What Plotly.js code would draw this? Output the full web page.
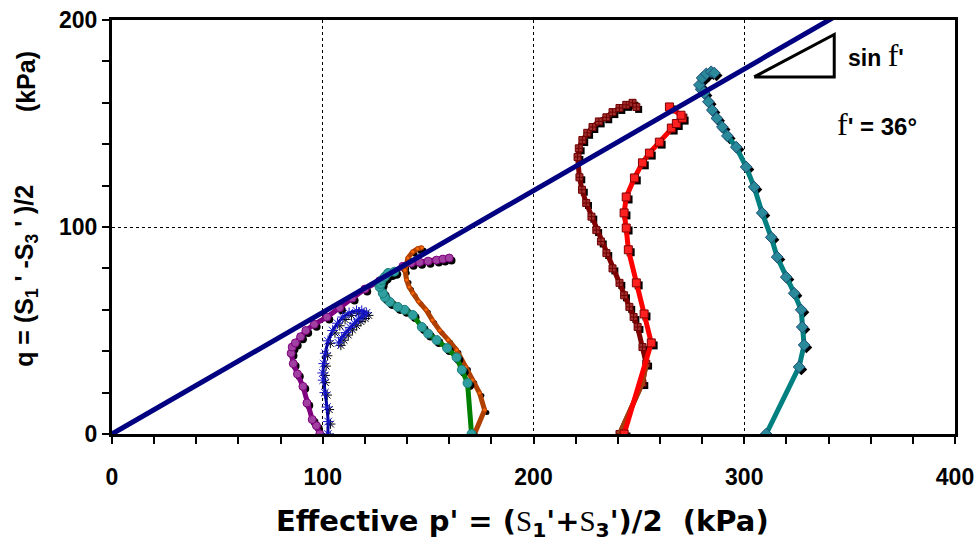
<!DOCTYPE html>
<html><head><meta charset="utf-8">
<script src="https://cdn.plot.ly/plotly-3.0.1.min.js"></script>
<style>html,body{margin:0;padding:0;background:#fff;}#chart{width:978px;height:544px;}</style>
</head><body><div id="chart"></div>
<script>
// Failure envelope (phi' = 36 deg)
var pLine = [0, 345];
var qLine = [0, 202.8];

// Stress paths (p', q) in kPa
var pA = [98.6, 97, 95, 92.5, 90.6, 88, 86, 85, 85.5, 87, 89.5, 92, 96, 102, 108, 114, 120, 127, 132, 138, 142, 146, 150, 154, 157, 160];
var qA = [0, 4, 7, 15, 23, 29, 34, 39, 42, 44, 47, 50, 53, 56.5, 61, 65.7, 70, 74, 77.5, 81, 82.5, 83, 83.5, 84, 84.5, 85];

var pB = [102.4, 102.6, 102, 101, 100.2, 100, 100.5, 101.2, 102.5, 104.7, 107, 109.5, 112.5, 116, 118.5, 120.7, 119, 117, 115, 113, 111, 109, 107.5];
var qB = [0, 6, 13, 20, 26, 29.5, 34, 39, 45, 50, 53.5, 56.5, 58.5, 59.5, 59.5, 58.5, 57, 55.5, 53.5, 51.5, 49, 46.5, 44];

var pC = [170.6, 168.7, 166, 163.5, 159, 154, 150, 147, 142.7, 138.8, 135.6, 131.8, 129.5, 128.5, 127, 127.5, 128, 129.5, 131, 134];
var qC = [0, 24.6, 31, 37, 41.5, 45.4, 48.5, 51.7, 57.5, 60, 61.4, 63.8, 66, 68, 71, 72.5, 74.4, 76, 77.8, 78.4];

var pD = [172, 176.8, 174.4, 171, 168, 163.5, 159.5, 155.5, 152, 149, 145.5, 142.7, 141, 139.8, 139, 140.4, 142.7, 145, 147];
var qD = [0, 11.6, 19.8, 26, 32.4, 40.6, 45.5, 50, 55, 60, 64, 68, 71, 74.4, 79, 85, 88, 89.5, 90];

var pE = [240.8, 251.7, 253.5, 251.7, 249.4, 247.5, 245.5, 243, 240.8, 237.5, 234.6, 232, 229.8, 227.5, 225, 223, 221.8, 220.9, 221.5, 223.2, 225.5, 228, 231, 234.6, 237.5, 240.8, 244, 247, 248.8];
var qE = [0, 24.6, 34, 42, 51.7, 56.5, 61.4, 67, 73, 80, 87.4, 93, 98.5, 105, 111.6, 118, 124, 133.8, 138, 142, 145.5, 148.3, 151, 153, 155.5, 157.5, 159, 160, 158];

var pF = [243, 255.9, 252.5, 248.8, 245, 244, 243, 244, 247.9, 251.7, 255, 259.7, 265.4, 267.8, 270.6, 270, 264.5];
var qF = [0, 44, 58, 73, 89, 99.5, 106.8, 114.5, 123.7, 131, 135.7, 141, 147.8, 150, 152.6, 154, 158];

var pG = [310.4, 326, 328.4, 327.5, 327, 323.7, 319.9, 315.6, 312.8, 308.5, 304.7, 300.9, 296.2, 292, 289.6, 287, 284.8, 283, 281, 279.5, 278.7, 280, 282, 284.3, 285.8];
var qG = [0, 32.4, 43, 51.7, 60, 68, 75.8, 85.5, 95, 106.8, 119.3, 129, 138.6, 144, 148.3, 152.5, 156.5, 160.5, 164.7, 166.5, 168.6, 172, 174, 175, 174.4];

// Triangle symbol for sin phi'
var triP = [304.7, 342.7, 342.7];
var triQ = [172.5, 172.5, 193];

function sh(arr, d) { return arr.map(function (v) { return v + d; }); }
function shadow(p, q, size, symbol) {
  return {x: sh(p, 1.1), y: sh(q, -1.2), mode: 'markers', type: 'scatter', hoverinfo: 'skip',
    marker: {color: '#000', size: size, symbol: symbol}, showlegend: false};
}
function path(p, q, lc, lw, mc, mlc, size, symbol, mode) {
  return {x: p, y: q, mode: mode || 'lines+markers', type: 'scatter', showlegend: false,
    line: {color: lc, width: lw},
    marker: {color: mc, size: size, symbol: symbol, line: {color: mlc, width: 1}}};
}

var traces = [
  shadow(pA, qA, 8, 'circle'),
  path(pA, qA, '#800080', 5, '#a040a0', '#800080', 8, 'circle'),
  shadow(pB, qB, 8, 'asterisk-open'),
  path(pB, qB, '#000099', 3, '#1a1acc', '#1a1acc', 9, 'asterisk-open'),
  shadow(pD, qD, 5, 'circle'),
  path(pD, qD, '#b04000', 5, '#ff6600', '#b04000', 4, 'circle'),
  shadow(pC, qC, 9, 'circle'),
  path(pC, qC, '#008000', 5, '#2f9f9f', '#1a7f7f', 9, 'circle'),
  shadow(pE, qE, 7, 'square'),
  path(pE, qE, '#800000', 5, '#a03030', '#700000', 7, 'square-cross'),
  {x: pE.slice(0, 3), y: qE.slice(0, 3), mode: 'lines', type: 'scatter', showlegend: false,
   line: {color: '#a0410d', width: 5}, hoverinfo: 'skip'},
  shadow(pF, qF, 8, 'square'),
  path(pF, qF, '#ff0000', 5, '#ff2020', '#800000', 8, 'square'),
  shadow(pG, qG, 9, 'diamond'),
  path(pG, qG, '#008080', 5, '#2a8a9a', '#1f4e79', 9, 'diamond'),
  {x: pLine, y: qLine, mode: 'lines', type: 'scatter', showlegend: false,
   line: {color: '#000080', width: 5}},
  {x: triP.concat([triP[0]]), y: triQ.concat([triQ[0]]), mode: 'lines', type: 'scatter', showlegend: false,
   line: {color: '#000', width: 3}, hoverinfo: 'skip'}
];

var tickFont = {family: 'Liberation Sans, Arial, sans-serif', size: 23, weight: 'bold', color: '#000'};
var serif = "font-family:'Liberation Serif',serif;font-weight:normal";

var layout = {
  width: 978, height: 544,
  margin: {l: 112, r: 23, t: 20, b: 110},
  paper_bgcolor: '#fff', plot_bgcolor: '#fff',
  showlegend: false,
  xaxis: {range: [0, 400], dtick: 100, tick0: 0, ticks: 'outside', ticklen: 7, tickwidth: 2, tickcolor: '#000',
    showline: true, linewidth: 3, linecolor: '#000', mirror: true,
    showgrid: true, gridcolor: '#000', gridwidth: 1, griddash: 'dot', zeroline: false,
    tickfont: tickFont, ticklabelstandoff: 13,
    minor: {dtick: 20, ticks: 'outside', ticklen: 7, tickwidth: 2, tickcolor: '#000', showgrid: false}},
  yaxis: {range: [0, 200], dtick: 100, tick0: 0, ticks: 'outside', ticklen: 7, tickwidth: 2, tickcolor: '#000',
    showline: true, linewidth: 3, linecolor: '#000', mirror: true,
    showgrid: true, gridcolor: '#000', gridwidth: 1, griddash: 'dot', zeroline: false,
    tickfont: tickFont,
    minor: {dtick: 20, ticks: 'outside', ticklen: 7, tickwidth: 2, tickcolor: '#000', showgrid: false}},
  annotations: [
    {xref: 'paper', yref: 'paper', x: 0.487, y: -0.215, xanchor: 'center', yanchor: 'middle', showarrow: false,
     text: "Effective p' = (<span style=\"" + serif + "\">S</span><sub>1</sub>'+<span style=\"" + serif + "\">S</span><sub>3</sub>')/2\u00A0\u00A0(kPa)",
     font: {family: 'DejaVu Sans, sans-serif', size: 29, weight: 'bold', color: '#000'}},
    {xref: 'paper', yref: 'paper', x: -0.102, y: 0.382, xanchor: 'center', yanchor: 'middle', showarrow: false, textangle: -90,
     text: "q = (S<sub>1</sub> ' -S<sub>3</sub> ' )/2",
     font: {family: 'Liberation Sans, Arial, sans-serif', size: 25, weight: 'bold', color: '#000'}},
    {xref: 'paper', yref: 'paper', x: -0.102, y: 0.85, xanchor: 'center', yanchor: 'middle', showarrow: false, textangle: -90,
     text: "(kPa)",
     font: {family: 'Liberation Sans, Arial, sans-serif', size: 25, weight: 'bold', color: '#000'}},
    {xref: 'x', yref: 'y', x: 362.5, y: 183, xanchor: 'center', yanchor: 'middle', showarrow: false,
     text: "sin <span style=\"" + serif + ";font-size:32px\">f</span>'",
     font: {family: 'Liberation Sans, Arial, sans-serif', size: 23, weight: 'bold', color: '#000'}},
    {xref: 'x', yref: 'y', x: 363, y: 150, xanchor: 'center', yanchor: 'middle', showarrow: false,
     text: "<span style=\"" + serif + ";font-size:32px\">f</span>' = 36°",
     font: {family: 'Liberation Sans, Arial, sans-serif', size: 24, weight: 'bold', color: '#000'}}
  ]
};

Plotly.newPlot('chart', traces, layout, {staticPlot: true, displayModeBar: false});
</script></body></html>
